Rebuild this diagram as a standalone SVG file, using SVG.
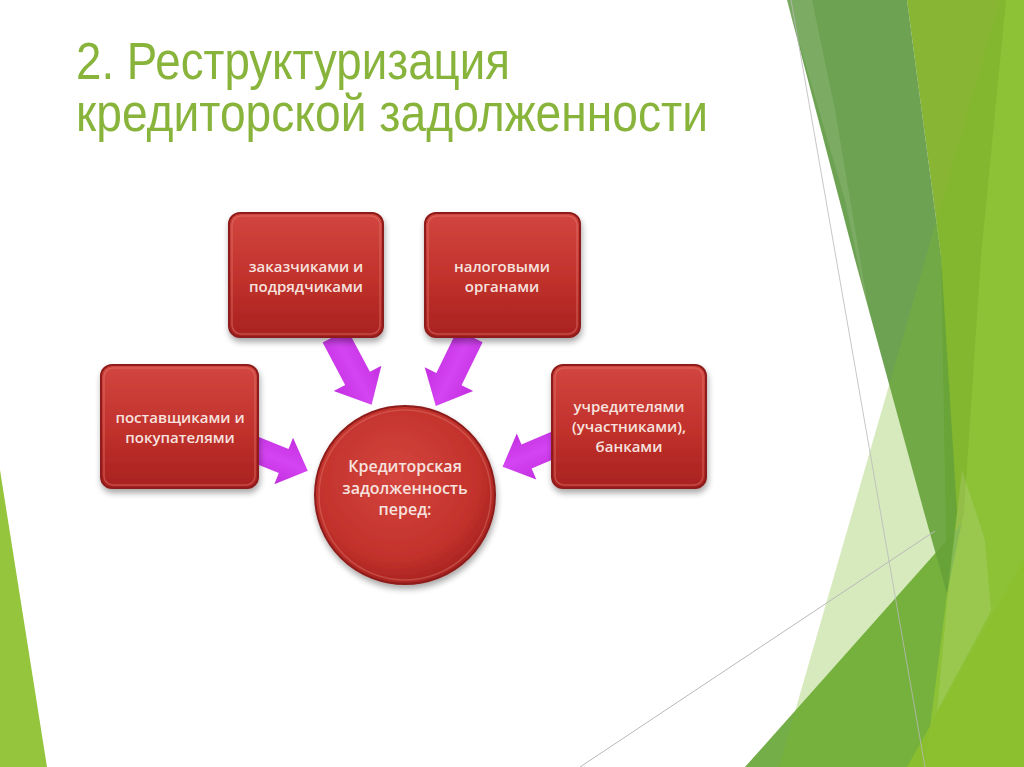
<svg xmlns="http://www.w3.org/2000/svg" width="1024" height="767" viewBox="0 0 1024 767">
<defs>
<style>
.box{fill:url(#boxGrad);stroke:#8e1c1a;stroke-width:2;filter:url(#shadow)}
.bevel{fill:none;stroke:#e27c74;stroke-width:1.5;opacity:.45}
.lbl{font-family:"Open Sans","Liberation Sans",sans-serif;font-weight:600;font-size:15px;fill:#f6e2df;text-anchor:middle}
.title{font-family:"Liberation Sans","DejaVu Sans",sans-serif;font-size:51px;fill:#89b43c}
.arrow{fill:url(#arrowGrad)}
.thin{stroke:#b9b9b9;stroke-width:1;fill:none}
</style>
<linearGradient id="boxGrad" x1="0" y1="0" x2="0" y2="1">
<stop offset="0" stop-color="#d2463f"/>
<stop offset="0.5" stop-color="#c2322d"/>
<stop offset="1" stop-color="#a9221f"/>
</linearGradient>
<radialGradient id="circGrad" cx="0.45" cy="0.4" r="0.65">
<stop offset="0" stop-color="#d4453e"/>
<stop offset="0.7" stop-color="#c2322c"/>
<stop offset="1" stop-color="#a11f1c"/>
</radialGradient>
<linearGradient id="arrowGrad" x1="0" y1="0" x2="0" y2="1">
<stop offset="0" stop-color="#c32fe0"/>
<stop offset="0.5" stop-color="#d444f2"/>
<stop offset="1" stop-color="#c32fe0"/>
</linearGradient>
<filter id="shadow" x="-20%" y="-20%" width="140%" height="150%">
<feGaussianBlur in="SourceAlpha" stdDeviation="3"/>
<feOffset dx="1" dy="4" result="b"/>
<feComponentTransfer><feFuncA type="linear" slope="0.35"/></feComponentTransfer>
<feMerge><feMergeNode/><feMergeNode in="SourceGraphic"/></feMerge>
</filter>
<path id="arr" d="M0,-14 L48,-14 L48,-27 L78,0 L48,27 L48,14 L0,14 Z"/>
<path id="arrS" d="M0,-13 L32,-13 L32,-25 L58,0 L32,25 L32,13 L0,13 Z"/>
</defs>

<rect width="1024" height="767" fill="#ffffff"/>

<g id="decoration">
<polygon points="0,470 47,767 0,767" fill="#95c53d"/>
<polygon points="907,0 1024,0 1024,767 925,767 947,594 941,256" fill="#88b634"/>
<polygon points="745,767 972,512 940,767" fill="#74ae48"/>
<polygon points="787,0 907,0 941,256 957,512 947,594 924,512 854,256" fill="#5e9840" opacity="0.9"/>
<polygon points="787,0 812,0 835,110 872,330 845,200" fill="#ffffff" opacity="0.1"/>
<polygon points="1006,0 1024,0 1024,767 925,767 947,594 964,512 981,256" fill="#95c53d"/>
<polygon points="1000,0 1024,0 1024,767 779,767" fill="#7ab828" opacity="0.3"/>
<polygon points="907,767 1024,560 1024,767" fill="#8cc02e" opacity="0.9"/>
<polygon points="962,470 985,540 991,611 937,711 948,594" fill="#ffffff" opacity="0.12"/>
<line class="thin" x1="791" y1="0" x2="925" y2="767" opacity="0.8"/>
<line class="thin" x1="580" y1="767" x2="935" y2="531"/>
</g>

<g id="title">
<text class="title" x="76" y="79" textLength="434" lengthAdjust="spacingAndGlyphs">2. Реструктуризация</text>
<text class="title" x="76" y="131" textLength="632" lengthAdjust="spacingAndGlyphs">кредиторской задолженности</text>
</g>

<g id="connectors">
<use href="#arr" class="arrow" transform="translate(335,336) rotate(62)"/>
<use href="#arr" class="arrow" transform="translate(470,336) rotate(116)"/>
<use href="#arrS" class="arrow" transform="translate(254,449) rotate(22)"/>
<use href="#arrS" class="arrow" transform="translate(556,444) rotate(157)"/>
</g>

<g id="node-contractors">
<rect class="box" x="229" y="213" width="154" height="124" rx="11"/>
<rect class="bevel" x="232" y="216" width="148" height="118" rx="9"/>
<text class="lbl" x="306" y="272">заказчиками и</text>
<text class="lbl" x="306" y="292">подрядчиками</text>
</g>

<g id="node-tax">
<rect class="box" x="425" y="213" width="155" height="124" rx="11"/>
<rect class="bevel" x="428" y="216" width="149" height="118" rx="9"/>
<text class="lbl" x="502" y="272">налоговыми</text>
<text class="lbl" x="502" y="292">органами</text>
</g>

<g id="node-suppliers">
<rect class="box" x="101" y="365" width="157" height="123" rx="11"/>
<rect class="bevel" x="104" y="368" width="151" height="117" rx="9"/>
<text class="lbl" x="180" y="423">поставщиками и</text>
<text class="lbl" x="180" y="443">покупателями</text>
</g>

<g id="node-founders">
<rect class="box" x="552" y="365" width="154" height="123" rx="11"/>
<rect class="bevel" x="555" y="368" width="148" height="117" rx="9"/>
<text class="lbl" x="629" y="412">учредителями</text>
<text class="lbl" x="629" y="432">(участниками),</text>
<text class="lbl" x="629" y="452">банками</text>
</g>

<g id="node-center">
<ellipse cx="405" cy="495" rx="90" ry="89" fill="url(#circGrad)" stroke="#8e1c1a" stroke-width="2" filter="url(#shadow)"/>
<ellipse cx="405" cy="495" rx="86" ry="85" fill="none" stroke="#e27c74" stroke-width="1.5" opacity="0.4"/>
<text class="lbl" x="405" y="472" style="font-size:16px">Кредиторская</text>
<text class="lbl" x="405" y="494" style="font-size:16px">задолженность</text>
<text class="lbl" x="405" y="515" style="font-size:16px">перед:</text>
</g>
</svg>
